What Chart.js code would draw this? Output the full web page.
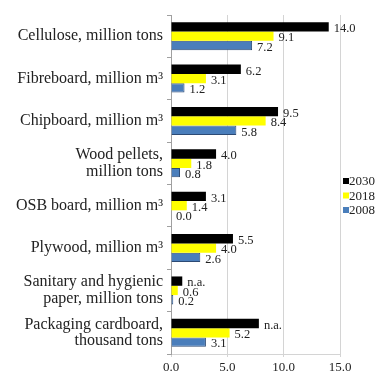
<!DOCTYPE html>
<html>
<head>
<meta charset="utf-8">
<script src="https://cdn.jsdelivr.net/npm/chart.js@4"></script>
<style>
  html, body { margin: 0; padding: 0; background: #fff; }
  #wrap { width: 376px; height: 371px; position: relative; }
</style>
</head>
<body>
<div id="wrap"><canvas id="chart"></canvas></div>
<script>
// products, top to bottom
const categories = [
  'Cellulose, million tons',
  'Fibreboard, million m³',
  'Chipboard, million m³',
  ['Wood pellets,', 'million tons'],
  'OSB board, million m³',
  'Plywood, million m³',
  ['Sanitary and hygienic', 'paper, million tons'],
  ['Packaging cardboard,', 'thousand tons']
];
const years = ['2030', '2018', '2008'];
const values2030 = [14.0, 6.2, 9.5, 4.0, 3.1, 5.5, 1.0, 7.8];
const values2018 = [9.1, 3.1, 8.4, 1.8, 1.4, 4.0, 0.6, 5.2];
const values2008 = [7.2, 1.2, 5.8, 0.8, 0.0, 2.6, 0.2, 3.1];
// forecasts with no published figure
const notAvailable2030 = [false, false, false, false, false, false, true, true];
const xTicks = [0, 5, 10, 15];

const serif = "'Liberation Serif', 'Times New Roman', serif";

const barLabels = {
  id: 'barLabels',
  afterDatasetsDraw(chart) {
    const ctx = chart.ctx;
    ctx.save();
    ctx.font = '12.5px ' + serif;
    ctx.fillStyle = '#222';
    ctx.textAlign = 'left';
    ctx.textBaseline = 'middle';
    chart.data.datasets.forEach((ds, di) => {
      chart.getDatasetMeta(di).data.forEach((bar, i) => {
        const na = ds.naFlags && ds.naFlags[i];
        const txt = na ? 'n.a.' : ds.data[i].toFixed(1);
        ctx.fillText(txt, bar.x + 5, bar.y + 2);
      });
    });
    ctx.restore();
  }
};

// small legend to the right of the plot
const sideLegend = {
  id: 'sideLegend',
  afterDraw(chart) {
    const ctx = chart.ctx;
    ctx.save();
    ctx.font = '13px ' + serif;
    ctx.textBaseline = 'middle';
    ctx.textAlign = 'left';
    chart.data.datasets.forEach((ds, i) => {
      const y = 181 + i * 14.5;
      ctx.fillStyle = ds.backgroundColor;
      ctx.fillRect(343, y - 3, 6, 6);
      ctx.fillStyle = '#222';
      ctx.fillText(ds.label, 349, y + 1);
    });
    ctx.restore();
  }
};

new Chart(document.getElementById('chart'), {
  type: 'bar',
  data: {
    labels: categories,
    datasets: [
      { label: years[0], data: values2030, naFlags: notAvailable2030,
        backgroundColor: '#000000', borderColor: '#000000', borderWidth: 0 },
      { label: years[1], data: values2018,
        backgroundColor: '#ffff00', borderColor: '#ffff00', borderWidth: 0 },
      { label: years[2], data: values2008,
        backgroundColor: '#4a7ebb', borderColor: '#2c4a74', borderWidth: 1 }
    ]
  },
  options: {
    indexAxis: 'y',
    responsive: true,
    maintainAspectRatio: false,
    animation: false,
    layout: { padding: { top: 15, right: 36, left: 0, bottom: 0 } },
    datasets: { bar: { barPercentage: 1, categoryPercentage: 0.66 } },
    plugins: { legend: { display: false }, tooltip: { enabled: false } },
    scales: {
      x: {
        min: 0,
        max: 15,
        afterBuildTicks: (scale) => { scale.ticks = xTicks.map(v => ({ value: v })); },
        afterFit: (scale) => { scale.height = 17; },
        ticks: {
          callback: (v) => Number(v).toFixed(1),
          font: { family: serif, size: 13 },
          color: '#222',
          padding: 3
        },
        grid: { color: '#d4d4d4', tickLength: 3 },
        border: { color: '#d4d4d4' }
      },
      y: {
        afterFit: (scale) => {
          scale.width = 171;
          scale.paddingTop = 0;
          scale.paddingBottom = 0;
        },
        ticks: {
          font: { family: serif, size: 16, lineHeight: 1.05 },
          color: '#222',
          padding: 4
        },
        grid: { drawOnChartArea: false, offset: true, tickLength: 4, color: '#a0a0a0' },
        border: { color: '#a0a0a0' }
      }
    }
  },
  plugins: [barLabels, sideLegend]
});
</script>
</body>
</html>
